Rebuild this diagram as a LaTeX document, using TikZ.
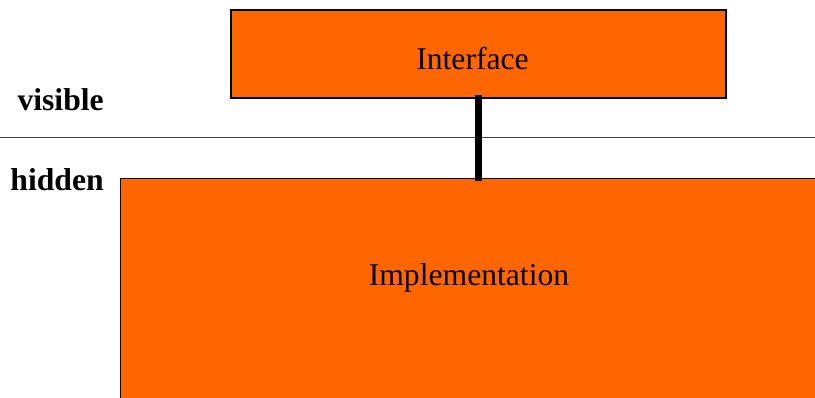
\documentclass[tikz,border=0pt]{standalone}
\usepackage{fontspec}
\setmainfont{Liberation Serif}
\definecolor{boxorange}{HTML}{FF6600}
\tikzset{
  layerbox/.style={draw=black, line width=0.9pt, fill=boxorange, rectangle, inner sep=0pt},
  boxtext/.style={anchor=base, inner sep=0pt, font=\fontsize{22.5}{27}\selectfont},
  sidetext/.style={anchor=base east, inner sep=0pt, font=\fontsize{22.5}{27}\selectfont\bfseries},
  link/.style={line width=5pt}
}
\begin{document}
\begin{tikzpicture}[x=0.025cm, y=-0.025cm]
% Fix the page size (815 x 397 px)
\path[use as bounding box] (0,0) rectangle (815,397);
\clip (0,0) rectangle (815,397);

% Dividing line
\coordinate (divl) at (0,137.5);
\coordinate (divr) at (815,137.5);
\draw[line width=1pt, black!75] (divl) -- (divr);

% Boxes
\node[layerbox, minimum width=495*0.025cm, minimum height=88*0.025cm] (iface) at (478.5,54) {};
\node[boxtext] (ifacetext) at (472.5,69) {Interface};
\node[layerbox, minimum width=760*0.025cm, minimum height=300*0.025cm, anchor=north west] (impl) at (120,178) {};
\node[boxtext] (impltext) at (469,285) {Implementation};

% Side labels
\node[sidetext] (vis) at (104,110) {visible};
\node[sidetext] (hid) at (104,190) {hidden};

% Connector
\draw[link] ([yshift=0.1cm]iface.south) -- ([yshift=-0.075cm]iface.south |- impl.north);
\end{tikzpicture}
\end{document}
